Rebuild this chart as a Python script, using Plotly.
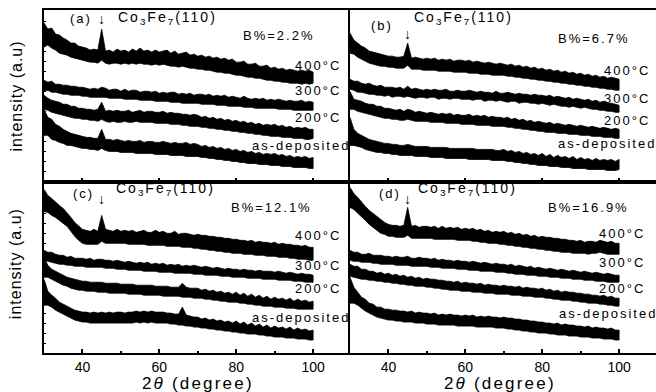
import plotly.graph_objects as go

two_theta = list(range(30, 101))

# Each pattern is a noisy band: upper and lower edge of the trace, read per degree.
# panel (a) B%=2.2%
a400_hi = [158,152,153,147,146,143,141,138,138,135, 134,133,131,132,131,152,130,131,129,132,
           130,131,129,132,130,133,130,131,129,131, 129,130,131,128,130,127,128,129,126,127,
           125,126,124,125,123,124,122,123,121,122, 119,119,120,117,117,118,115,115,116,113,
           114,112,113,111,112,111,110,111,110,111, 109]
a400_lo = [134,136,133,131,128,127,126,124,123,122, 121,120,119,119,118,121,118,117,118,118,
           117,118,117,118,117,118,117,117,116,117, 116,117,116,115,115,114,115,114,113,113,
           112,112,111,111,110,109,109,108,108,107, 106,106,105,104,104,103,103,102,101,101,
           100,100,99,99,98,98,98,97,98,97, 98]
a300_hi = [101,99,100,97,97,96,96,95,95,94, 94,93,92,93,92,94,93,91,92,92,
           90,92,90,91,91,89,90,90,89,90, 88,89,88,89,89,87,88,87,88,86,
           87,87,86,87,85,86,85,86,84,85, 84,83,85,83,82,83,82,83,81,82,
           81,82,81,80,81,80,80,81,79,80, 79]
a300_lo = [90,91,89,89,88,87,87,86,86,86, 85,85,84,84,84,84,84,83,83,83,
           83,82,82,82,82,81,81,81,81,80, 80,80,80,79,79,79,78,78,78,78,
           78,77,77,77,77,76,76,76,75,75, 75,75,74,74,74,73,73,73,73,73,
           73,72,72,72,72,71,71,71,71,71, 71]
a200_hi = [86,83,81,80,79,77,77,75,75,73, 73,72,72,71,72,79,70,71,70,71,
           70,70,71,69,70,71,69,70,70,69, 69,70,68,69,68,68,67,67,66,67,
           66,64,65,63,64,62,63,61,62,60, 61,59,60,58,59,57,58,56,57,56,
           57,55,56,54,55,53,54,53,54,52, 52]
a200_lo = [72,71,69,68,67,66,65,64,63,63, 62,62,61,61,60,62,60,59,60,59,
           59,60,59,59,60,59,59,59,59,58, 58,58,58,57,57,57,56,56,55,55,
           55,54,54,53,53,52,52,51,51,50, 50,49,49,48,48,47,47,46,46,45,
           45,45,44,44,44,43,43,43,42,42, 43]
adep_hi = [72,64,62,57,55,52,50,48,47,46, 45,44,44,43,43,52,42,42,41,42,
           41,40,41,40,40,41,39,40,40,39, 39,40,39,38,39,38,38,39,37,38,
           37,35,36,34,35,33,34,32,33,31, 32,30,31,29,30,28,29,27,28,27,
           28,26,27,25,26,24,25,24,25,23, 24]
adep_lo = [46,46,42,41,39,38,36,36,35,34, 33,33,32,32,31,33,31,30,30,30,
           29,29,29,29,28,28,28,28,28,27, 27,27,27,26,26,26,26,25,25,25,
           25,24,24,23,23,22,22,21,21,20, 20,19,19,18,18,18,17,17,17,16,
           16,16,15,15,15,14,14,14,14,13, 13]

# panel (b) B%=6.7%
b400_hi = [148,141,138,135,133,130,129,128,127,126, 125,125,124,124,125,138,123,124,123,122,
           123,122,123,121,122,121,122,120,121,121, 120,121,119,120,119,118,119,118,117,118,
           117,116,117,115,116,114,115,113,114,112, 113,111,112,110,111,109,110,108,109,107,
           108,106,107,105,106,104,105,103,104,103, 102]
b400_lo = [128,127,124,122,120,118,117,116,115,115, 114,114,113,113,113,116,112,112,112,111,
           111,111,111,110,110,110,110,109,109,109, 109,108,108,108,107,107,107,106,106,106,
           106,105,105,104,104,103,103,102,102,101, 101,100,100,99,99,98,98,97,97,96,
           96,95,95,94,94,93,93,92,92,91, 91]
b300_hi = [102,100,100,98,97,98,96,95,96,94, 94,94,93,94,92,95,92,93,92,91,
           92,91,92,91,91,92,90,90,91,90, 90,91,90,89,90,89,89,88,90,88,
           88,89,88,87,88,87,87,86,87,86, 86,85,86,84,85,84,83,84,82,83,
           82,81,82,80,81,79,80,78,78,77, 76]
b300_lo = [92,91,89,89,88,87,87,86,86,85, 86,84,85,85,84,85,84,83,84,84,
           83,84,84,82,83,83,82,83,83,82, 82,82,81,82,82,80,81,81,80,81,
           80,79,80,80,78,79,79,78,78,77, 78,77,76,77,76,75,75,74,75,74,
           73,74,73,72,72,71,71,70,70,69, 69]
b200_hi = [90,82,81,80,78,77,77,75,75,73, 73,72,71,72,70,72,71,69,70,69,
           68,69,68,67,68,67,68,66,67,66, 66,67,65,66,65,66,64,65,64,64,
           63,64,62,63,61,62,60,61,59,60, 59,58,59,57,58,57,56,57,56,55,
           56,55,54,55,54,53,54,53,52,53, 52]
b200_lo = [72,72,70,69,68,67,66,65,64,63, 63,62,62,61,61,62,61,60,60,60,
           60,59,59,59,59,58,58,58,58,57, 57,57,57,56,56,56,56,55,55,55,
           55,54,54,53,53,52,52,51,51,50, 50,49,49,49,48,48,48,47,47,47,
           46,46,46,45,45,45,44,44,44,43, 43]
bdep_hi = [64,52,48,46,44,42,41,40,39,38, 38,37,37,36,36,37,36,35,35,35,
           35,34,34,34,34,34,33,33,33,33, 33,33,33,32,32,32,32,32,31,31,
           32,30,31,29,30,28,29,27,28,26, 28,25,27,24,26,24,25,23,25,22,
           24,22,23,21,23,21,22,21,22,20, 22]
bdep_lo = [36,36,35,34,32,31,30,29,29,28, 28,27,27,26,26,26,26,25,25,25,
           25,24,24,24,24,23,23,23,23,23, 23,22,22,22,22,22,22,21,21,21,
           21,20,20,19,19,18,18,17,17,16, 16,16,15,15,15,14,14,14,13,13,
           13,13,12,12,12,12,12,11,11,11, 12]

# panel (c) B%=12.1%
c400_hi = [164,158,155,151,148,145,141,136,131,127, 124,123,122,124,122,138,124,123,122,124,
           122,123,122,123,121,122,123,121,121,123, 121,122,120,120,122,119,120,120,119,118,
           119,118,118,117,117,116,116,115,115,114, 114,113,113,112,113,111,112,111,111,110,
           111,109,110,109,109,108,108,107,108,106, 106]
c400_lo = [142,141,138,136,133,130,127,122,117,113, 110,109,109,109,109,112,110,110,110,110,
           110,110,109,109,109,109,109,108,108,108, 108,108,107,107,107,107,106,106,106,105,
           105,104,104,103,103,102,102,101,101,100, 100,100,99,99,99,98,98,98,97,97,
           97,96,96,96,95,95,94,94,94,93, 93]
c300_hi = [103,101,101,99,98,98,96,97,95,95, 95,94,95,93,94,94,93,93,92,93,
           92,91,92,91,90,91,90,91,89,90, 89,90,88,89,88,89,87,88,87,88,
           87,86,87,86,85,86,85,84,85,84, 84,83,84,83,83,82,83,82,82,82,
           81,82,81,80,81,80,79,80,79,79, 78]
c300_lo = [93,92,91,90,89,89,88,88,87,87, 87,86,86,86,86,86,85,85,85,84,
           84,84,83,83,83,83,82,82,82,82, 81,81,81,81,80,80,80,80,80,79,
           79,79,78,78,78,78,77,77,77,76, 76,76,76,75,75,75,75,74,74,74,
           74,73,73,73,73,72,72,72,71,71, 71]
c200_hi = [96,88,84,82,80,78,76,75,74,73, 72,72,71,71,71,71,70,70,70,70,
           69,69,69,69,68,68,68,68,68,67, 67,67,67,66,66,66,70,66,65,65,
           65,63,64,62,63,61,62,60,61,59, 61,58,60,57,59,56,58,55,57,54,
           56,54,55,53,55,52,54,52,53,51, 52]
c200_lo = [76,76,74,72,70,68,67,65,64,63, 63,62,62,62,61,61,61,60,60,60,
           60,60,59,59,59,59,58,58,58,58, 58,57,57,57,57,57,56,56,56,55,
           55,55,54,54,53,53,52,52,51,51, 51,50,50,49,49,48,48,47,47,47,
           46,46,46,45,45,45,44,44,44,44, 44]
cdep_hi = [74,62,58,55,51,49,47,45,43,42, 41,41,40,41,40,41,40,41,40,41,
           41,40,41,41,42,41,42,41,42,41, 41,41,40,40,39,39,46,38,37,36,
           36,34,35,33,34,32,33,31,32,30, 32,29,31,28,30,27,29,26,28,25,
           27,25,26,24,26,23,25,23,24,22, 23]
cdep_lo = [48,48,46,43,41,39,37,35,33,32, 31,31,30,30,30,30,30,30,30,30,
           30,30,30,30,31,30,31,30,31,30, 30,30,30,29,29,28,28,27,27,26,
           26,25,25,24,24,23,23,22,22,21, 21,20,20,19,19,19,18,18,17,17,
           16,16,16,15,15,15,14,14,14,13, 13]

# panel (d) B%=16.9%
d400_hi = [166,160,156,151,147,143,140,137,134,131, 129,128,128,127,128,146,127,128,126,127,
           127,126,127,125,127,125,126,125,126,124, 125,124,125,123,124,122,123,121,122,121,
           122,120,121,119,120,118,119,117,118,116, 117,116,116,115,115,114,114,113,113,112,
           113,111,112,112,111,113,112,111,112,110, 110]
d400_lo = [146,144,140,137,133,129,126,123,120,119, 117,117,116,116,116,118,115,115,115,115,
           115,115,114,114,114,114,114,114,113,113, 113,113,112,112,111,111,110,110,110,109,
           109,108,108,107,107,106,106,105,105,104, 104,103,103,102,102,101,101,101,100,100,
           100,100,99,100,100,101,100,99,99,99, 99]
d300_hi = [103,101,101,99,99,100,98,98,98,97, 97,96,97,96,96,97,95,95,96,95,
           95,94,95,93,94,93,93,92,93,92, 92,91,92,91,90,91,90,89,90,89,
           89,88,89,87,88,87,86,87,85,86, 85,84,85,84,83,84,83,82,83,82,
           81,82,81,80,81,80,79,80,79,78, 78]
d300_lo = [93,92,92,91,91,91,90,90,89,89, 89,89,88,88,88,88,87,87,87,87,
           87,86,86,86,85,85,85,85,84,84, 84,83,83,83,82,82,82,82,81,81,
           81,80,80,79,79,79,78,78,78,77, 77,77,76,76,76,75,75,75,74,74,
           74,73,73,73,72,72,72,71,71,71, 71]
d200_hi = [89,87,87,84,84,82,82,80,81,79, 80,78,79,77,78,76,77,75,76,74,
           75,74,74,73,73,72,72,71,72,70, 71,70,70,69,70,68,69,68,68,67,
           68,67,67,66,67,65,66,65,65,64, 65,63,64,62,63,61,62,61,61,60,
           60,59,59,58,58,57,58,56,57,55, 55]
d200_lo = [77,76,75,74,74,73,73,72,72,71, 71,70,70,69,69,68,68,67,67,67,
           66,66,65,65,64,64,63,63,63,62, 62,62,61,61,61,60,60,60,59,59,
           59,59,58,58,58,57,57,57,56,56, 56,55,55,54,54,53,53,53,52,52,
           51,51,50,50,50,49,49,48,48,47, 47]
ddep_hi = [76,66,61,56,54,50,49,46,46,44, 44,43,43,42,42,41,42,40,41,40,
           40,39,40,38,39,38,39,38,38,37, 38,37,38,36,37,36,37,36,36,35,
           36,35,35,34,34,33,33,32,32,31, 31,30,30,29,30,28,29,28,28,27,
           27,26,27,25,26,25,25,24,25,23, 23]
ddep_lo = [50,50,48,45,42,40,38,36,35,34, 33,33,32,32,31,31,31,30,30,30,
           29,29,29,28,28,28,28,28,27,27, 27,27,27,26,26,26,26,26,25,25,
           25,24,24,23,23,22,22,21,21,20, 20,20,19,19,18,18,18,17,17,17,
           16,16,16,15,15,15,14,14,14,13, 13]

panel_tags = ["(a)", "(b)", "(c)", "(d)"]
boron = ["B%=2.2%", "B%=6.7%", "B%=12.1%", "B%=16.9%"]
series_names = ["400°C", "300°C", "200°C", "as-deposited"]
panels = [
    [(a400_hi, a400_lo), (a300_hi, a300_lo), (a200_hi, a200_lo), (adep_hi, adep_lo)],
    [(b400_hi, b400_lo), (b300_hi, b300_lo), (b200_hi, b200_lo), (bdep_hi, bdep_lo)],
    [(c400_hi, c400_lo), (c300_hi, c300_lo), (c200_hi, c200_lo), (cdep_hi, cdep_lo)],
    [(d400_hi, d400_lo), (d300_hi, d300_lo), (d200_hi, d200_lo), (ddep_hi, ddep_lo)],
]
x_ticks_major = [40, 60, 80, 100]
x_ticks_minor = [50, 70, 90]

# per-panel label positions (data coords)
tag_pos = [(39.6, 163), (38.3, 156), (40.2, 160), (40.3, 160)]
phase_pos = [(62, 163), (59.6, 163), (61.7, 164), (60.6, 164)]
arrow_pos = [162, 147, 154, 154]
boron_pos = [(91.2, 146), (93.6, 143), (89.1, 146), (92.1, 146)]
label_x = [(94.8, 83.6), (95.5, 83.7), (94.8, 83.6), (94.2, 83.9)]
label_y = [[116, 91, 64, 36], [111, 83, 61, 38], [118, 88, 65, 36], [120, 91, 65, 40]]
xtitle_x = [70.1, 68.9]

FONT = "Liberation Sans, Arial, sans-serif"
fig = go.Figure()
domains = [([0, 0.5], [0.5, 1]), ([0.5, 1], [0.5, 1]), ([0, 0.5], [0, 0.5]), ([0.5, 1], [0, 0.5])]
yranges = [[0, 171], [0, 171], [0, 172], [0, 172]]

annotations = []
for i in range(4):
    xa = "x" if i == 0 else f"x{i+1}"
    ya = "y" if i == 0 else f"y{i+1}"
    for name, (hi, lo) in zip(series_names, panels[i]):
        fig.add_trace(go.Scatter(x=two_theta + two_theta[::-1], y=hi + lo[::-1],
                                 mode="lines", name=name, fill="toself",
                                 fillcolor="black", line=dict(color="black", width=0.8),
                                 xaxis=xa, yaxis=ya, showlegend=False,
                                 hoverinfo="skip"))
    sfx = "" if i == 0 else str(i + 1)
    bottom = i >= 2
    left = i in (0, 2)
    fig.update_layout(**{
        f"xaxis{sfx}": dict(domain=domains[i][0], range=[30, 109.6], anchor=ya,
                            showline=True, linewidth=2, linecolor="black", mirror=True,
                            ticks="inside", tickvals=x_ticks_major, ticklen=4, tickwidth=2,
                            tickcolor="black",
                            minor=dict(tickvals=x_ticks_minor, ticks="inside", ticklen=2,
                                       tickwidth=2, tickcolor="black"),
                            showticklabels=bottom, showgrid=False, zeroline=False,
                            tickfont=dict(family=FONT, size=14, color="black")),
        f"yaxis{sfx}": dict(domain=domains[i][1], range=yranges[i], anchor=xa,
                            showline=True, linewidth=2, linecolor="black", mirror=False,
                            ticks="inside" if left else "", dtick=10, ticklen=2, tickwidth=1,
                            tickcolor="black", showticklabels=False, showgrid=False,
                            zeroline=False),
    })
    tf = dict(family=FONT, size=13, color="black")
    annotations.append(dict(x=tag_pos[i][0], y=tag_pos[i][1], xref=xa, yref=ya,
                            text=panel_tags[i], showarrow=False, font=tf))
    annotations.append(dict(x=phase_pos[i][0], y=phase_pos[i][1], xref=xa, yref=ya,
                            text="Co<sub>3</sub>Fe<sub>7</sub>(110)", showarrow=False,
                            font=dict(family=FONT, size=14, color="black")))
    annotations.append(dict(x=45, y=arrow_pos[i], xref=xa, yref=ya, text="↓",
                            showarrow=False, font=dict(family=FONT, size=14, color="black")))
    annotations.append(dict(x=boron_pos[i][0], y=boron_pos[i][1], xref=xa, yref=ya,
                            text=boron[i], showarrow=False, font=tf))
    for k, name in enumerate(series_names):
        lx = label_x[i][1] if k == 3 else label_x[i][0]
        annotations.append(dict(x=lx, y=label_y[i][k], xref=xa, yref=ya, text=name,
                                showarrow=False, xanchor="left", align="left", font=tf))
    if bottom:
        annotations.append(dict(x=xtitle_x[i - 2], y=-0.089, xref=xa, yref="paper",
                                xanchor="center", yanchor="middle",
                                text="2<i>θ</i> (degree)", showarrow=False,
                                font=dict(family=FONT, size=17, color="black")))
    if left:
        annotations.append(dict(x=-0.046, y=0.749 if i == 0 else 0.26, xref="paper",
                                yref="paper", xanchor="center", yanchor="middle",
                                text="intensity (a.u)", showarrow=False,
                                textangle=-90,
                                font=dict(family=FONT, size=16, color="black")))

fig.update_layout(width=656, height=392, margin=dict(l=44, r=0, t=10, b=39),
                  paper_bgcolor="white", plot_bgcolor="white",
                  annotations=annotations, showlegend=False)

post = """
document.body.style.margin = '0';
document.body.style.overflow = 'hidden';
var gd = document.getElementById('{plot_id}');
function ls(){
  gd.querySelectorAll('.annotation-text').forEach(function(t){
    var s = t.textContent;
    if (s.indexOf('degree') >= 0) t.style.letterSpacing = '2.2px';
    else if (s.indexOf('intensity') >= 0) t.style.letterSpacing = '1px';
    else if (s.indexOf('\\u2193') >= 0) t.style.letterSpacing = '0px';
    else t.style.letterSpacing = '2px';
  });
  gd.querySelectorAll('.xtick text').forEach(function(t){ t.style.letterSpacing = '2.5px'; });
}
ls();
gd.on('plotly_afterplot', ls);
"""
fig.write_html("out.html", post_script=post, config={"displayModeBar": False})
